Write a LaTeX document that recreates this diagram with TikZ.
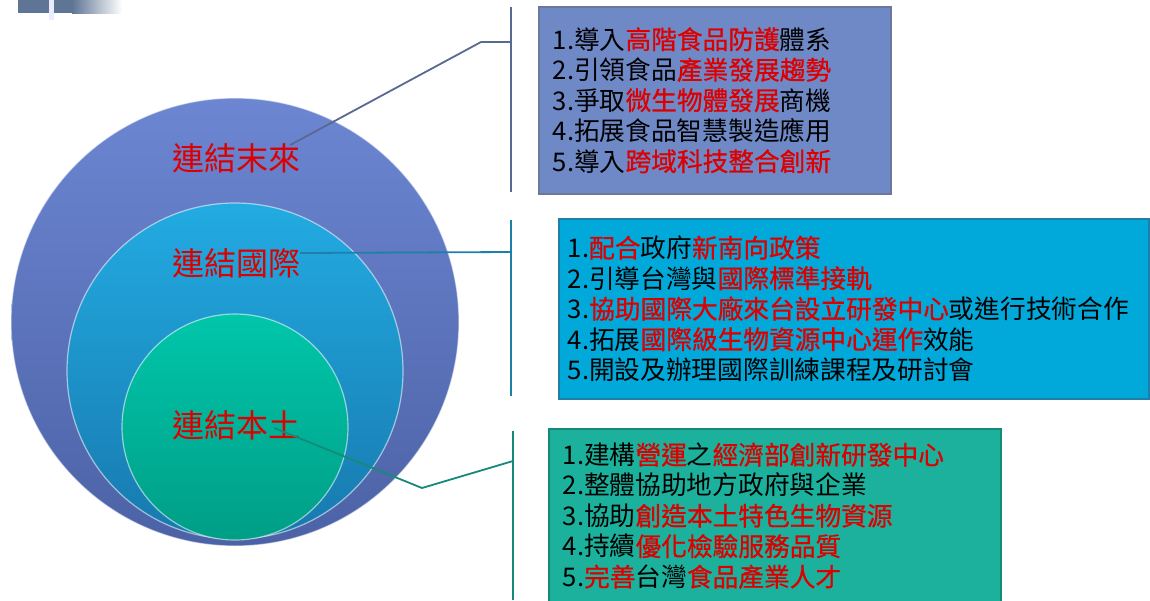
\documentclass[tikz,border=0pt]{standalone}
\usepackage{fontspec}
\usepackage{xcolor}
\setmainfont{Noto Sans CJK TC}
\newfontfamily\semibold[FakeBold=0.7]{Noto Sans CJK TC}
\usetikzlibrary{positioning,backgrounds}

\definecolor{hlred}{HTML}{DC0000}
\definecolor{futtop}{HTML}{6C86D2}
\definecolor{futbot}{HTML}{4C62A6}
\definecolor{intltop}{HTML}{22ABE2}
\definecolor{intlbot}{HTML}{1779AE}
\definecolor{loctop}{HTML}{00C6AA}
\definecolor{locbot}{HTML}{009E86}
\definecolor{futfill}{HTML}{6F88C6}
\definecolor{futline}{HTML}{5A6991}
\definecolor{intlfill}{HTML}{00A9DA}
\definecolor{intlline}{HTML}{1E7FA8}
\definecolor{locfill}{HTML}{1BB19C}
\definecolor{locline}{HTML}{168A7A}
\definecolor{corner}{HTML}{5F7595}
\newcommand{\redtxt}[1]{{\color{hlred}\semibold #1}}

\begin{document}
\begin{tikzpicture}[x=1pt,y=-1pt,
    ring/.style={circle, inner sep=0pt, draw=white, draw opacity=0.55, line width=1.2pt},
    ringlabel/.style={inner sep=0pt, text=hlred, font=\fontsize{32}{36}\selectfont},
    listbox/.style={line width=1.5pt, anchor=north west, align=left,
      inner ysep=0pt, font=\fontsize{25.7}{30.5}\selectfont},
    link/.style={line width=1.8pt},
  ]
    \useasboundingbox (0,0) rectangle (1150,600);
    % corner mark
    \fill[corner] (18,0) rectangle (72,13);
    \shade[left color=corner, right color=white] (72,0) rectangle (122,13);
    \fill[blue!8] (49,0) rectangle (54,20);

    \node[ring, minimum size=448pt, top color=futtop, bottom color=futbot] (fut) at (235,322) {};
    \node[ring, minimum size=336pt, top color=intltop, bottom color=intlbot] (intl) at (235,371) {};
    \node[ring, minimum size=226pt, top color=loctop, bottom color=locbot] (loc) at (235,427) {};

    \node[ringlabel] (lbl fut) at (236,158) {連結末來};
    \node[ringlabel] (lbl intl) at (236,263) {連結國際};
    \node[ringlabel] (lbl loc) at (236,425) {連結本土};

    \node[listbox, fill=futfill, draw=futline!90, inner xsep=14pt, text width=324pt,
      minimum height=187pt] (list fut) at (538,6)
      {1.導入\redtxt{高階食品防護}體系\\
       2.引領食品\redtxt{產業發展趨勢}\\
       3.爭取\redtxt{微生物體發展}商機\\
       4.拓展食品智慧製造應用\\
       5.導入\redtxt{跨域科技整合創新}};
    \node[listbox, fill=intlfill, draw=intlline, inner xsep=9pt, text width=572pt,
      minimum height=180pt] (list intl) at (558,218)
      {1.\redtxt{配合}政府\redtxt{新南向政策}\\
       2.引導台灣與\redtxt{國際標準接軌}\\
       3.\redtxt{協助國際大廠來台設立研發中心}或進行技術合作\\
       4.拓展\redtxt{國際級生物資源中心運作}效能\\
       5.開設及辦理國際訓練課程及研討會};
    \node[listbox, fill=locfill, draw=locline, inner xsep=14pt, text width=424pt,
      minimum height=174pt] (list loc) at (548,428)
      {1.建構\redtxt{營運}之\redtxt{經濟部創新研發中心}\\
       2.整體協助地方政府與企業\\
       3.協助\redtxt{創造本土特色生物資源}\\
       4.持續\redtxt{優化檢驗服務品質}\\
       5.\redtxt{完善}台灣\redtxt{食品產業人才}};

    \coordinate (fut top) at (511,7);
    \coordinate (fut bot) at (511,192);
    \coordinate (fut tip) at (511,42);
    \coordinate (fut bend) at (481,42);
    \coordinate (intl top) at (511,220);
    \coordinate (intl bot) at (511,396);
    \coordinate (intl tip) at (511,252);
    \coordinate (loc top) at (513,431);
    \coordinate (loc bot) at (513,600);
    \coordinate (loc tip) at (513,461);
    \coordinate (loc bend) at (422,488);

    \draw[link, futline] (fut top) -- (fut bot);
    \draw[link, intlline] (intl top) -- (intl bot);
    \draw[link, locline] (loc top) -- (loc bot);

    \draw[link, futline] ([xshift=-10pt,yshift=13pt]lbl fut.east) -- (fut bend) -- (fut tip);
    \draw[link, intlline] ([yshift=10pt]lbl intl.east) -- (intl tip);
    \draw[link, locline] ([xshift=-26pt,yshift=-3pt]lbl loc.east) -- (loc bend) -- (loc tip);
\end{tikzpicture}
\end{document}
